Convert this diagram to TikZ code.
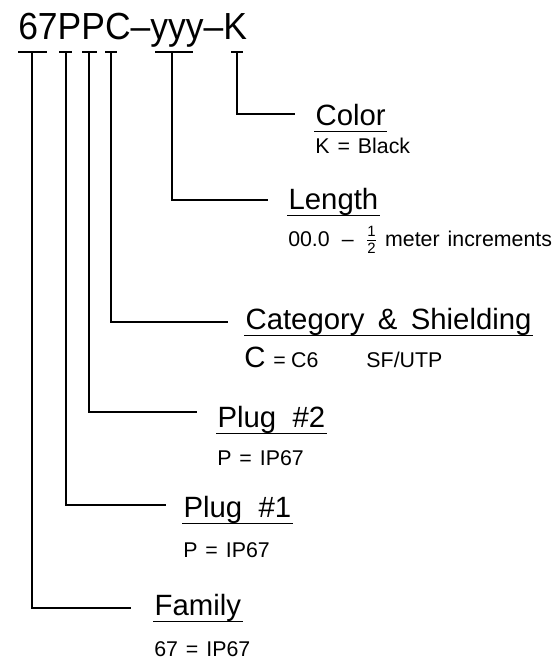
\documentclass[tikz,border=0pt]{standalone}
\usepackage{amsmath}
\usepackage{fontspec}
\setmainfont{Liberation Sans}
\newfontfamily\codefont[FakeStretch=0.94]{Liberation Sans}

\begin{document}
\begin{tikzpicture}[x=0.75pt,y=0.75pt,yscale=-1,xscale=1,
    head/.style={anchor=base west,inner xsep=1pt,inner ysep=0pt,text depth=4.5pt,font=\fontsize{22}{26}\selectfont},
    note/.style={anchor=base west,inner sep=0pt,font=\fontsize{16}{19}\selectfont},
    lead/.style={line width=1.1pt}]
        \useasboundingbox (0,0) rectangle (556,660);
        % part number
        \draw (18,40) node (code) [anchor=base west][inner sep=0pt] {\codefont\fontsize{28.3}{32}\selectfont 67PPC\textendash yyy\textendash K};
        \foreach \a/\b in {18/47,59/72,82/97,105/117,155/193,231/243}
            \draw [lead] (\a,52) -- (\b,52);
        % tick points and leader ends
        \coordinate (tFam) at (32,52);   \coordinate (lFam) at (131,608);
        \coordinate (tPlugA) at (66,52); \coordinate (lPlugA) at (166,505);
        \coordinate (tPlugB) at (89,52); \coordinate (lPlugB) at (197,412);
        \coordinate (tCat) at (111,52);  \coordinate (lCat) at (228,322);
        \coordinate (tLen) at (172,52);  \coordinate (lLen) at (268,200);
        \coordinate (tCol) at (237,52);  \coordinate (lCol) at (295,114);
        \draw [lead] (tFam) |- (lFam);
        \draw [lead] (tPlugA) |- (lPlugA);
        \draw [lead] (tPlugB) |- (lPlugB);
        \draw [lead] (tCat) |- (lCat);
        \draw [lead] (tLen) |- (lLen);
        \draw [lead] (tCol) |- (lCol);
        % headings
        \draw (314,125) node (color) [head] {Color};
        \draw (287,209) node (length) [head] {Length};
        \draw (244,329) node (category) [head] {Category\hspace{10pt}\&\hspace{10pt}Shielding};
        \draw (216,427) node (plugb) [head] {Plug \ \#2};
        \draw (182,517) node (pluga) [head] {Plug \ \#1};
        \draw (153,615) node (family) [head] {Family};
        \foreach \n in {color,length,category,plugb,pluga,family}
            \draw [lead] (\n.south west) -- (\n.south east);
        % values
        \draw (315,153) node (colornote) [note] {K\hspace{6pt}=\hspace{6pt}Black};
        \draw (288,246) node (lengthnote) [note] {00.0\hspace{9pt}\textendash\hspace{9pt}$\frac{\text{1}}{\text{2}}$\hspace{6pt}meter\hspace{6pt}increments};
        \draw (244,367) node (catnote) [note] {{\fontsize{22}{26}\selectfont C}\hspace{6pt}=\hspace{4pt}C6\hspace{36pt}SF/UTP};
        \draw (217,465) node (plugbnote) [note] {P\hspace{6pt}=\hspace{6pt}IP67};
        \draw (183,557) node (pluganote) [note] {P\hspace{6pt}=\hspace{6pt}IP67};
        \draw (154,656) node (familynote) [note] {67\hspace{6pt}=\hspace{6pt}IP67};
\end{tikzpicture}
\end{document}
